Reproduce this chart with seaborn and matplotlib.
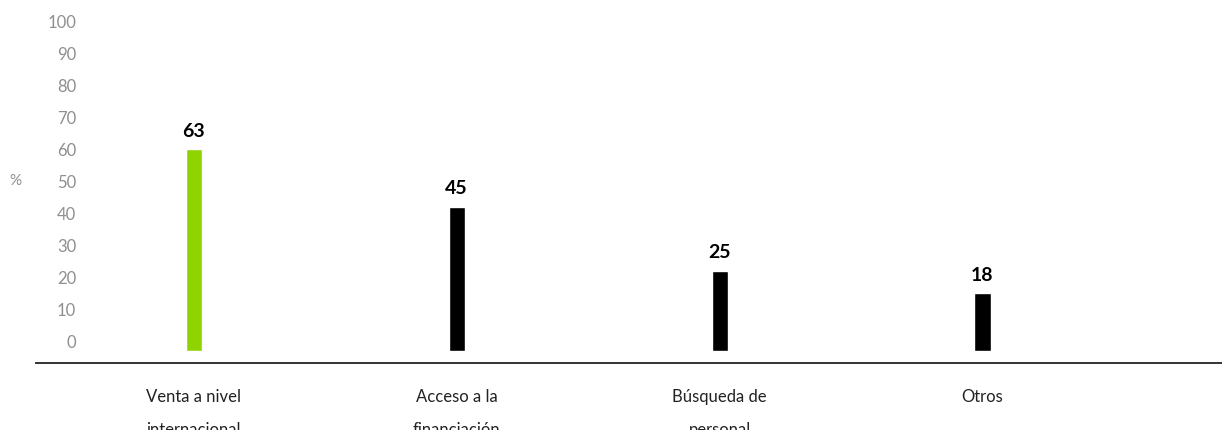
import matplotlib
matplotlib.use("Agg")
import matplotlib.pyplot as plt
import seaborn as sns
import pandas as pd

categories = ["Venta a nivel\ninternacional", "Acceso a la\nfinanciación",
              "Búsqueda de\npersonal", "Otros"]
values = [63, 45, 25, 18]
bar_colors = ["#8fd400", "#000000", "#000000", "#000000"]
y_ticks = [0, 10, 20, 30, 40, 50, 60, 70, 80, 90, 100]

sns.set_theme(style="white")
plt.rcParams["font.family"] = ["Lato", "DejaVu Sans"]

W, H = 1222, 430
fig = plt.figure(figsize=(W / 100, H / 100), dpi=100)

# axes spans from the baseline (y=363 px) up to the top of the figure
left_px, base_px = 36, 363
ax = fig.add_axes([left_px / W, (H - base_px) / H, 1 - left_px / W, base_px / H])

df = pd.DataFrame({"cat": categories, "val": values})
sns.barplot(data=df, x="cat", y="val", hue="cat", palette=bar_colors,
            width=0.061, legend=False, ax=ax, saturation=1)

px_per_unit = 3.2
ax.set_ylim(-(base_px - 351) / px_per_unit, 351 / px_per_unit)
spacing = 263.5
ax.set_xlim(-(194 - left_px) / spacing, 3 + (W - 982) / spacing)

# value labels above each bar
for p in ax.patches:
    h = p.get_height()
    if h is None or h != h or h == 0:
        continue
    ax.annotate(f"{h:.0f}", (p.get_x() + p.get_width() / 2, h),
                xytext=(0, 7), textcoords="offset points",
                ha="center", va="bottom", fontsize=14,
                fontweight="bold", color="#000000")

for s in ["left", "right", "top"]:
    ax.spines[s].set_visible(False)
ax.spines["bottom"].set_color("#333333")
ax.spines["bottom"].set_linewidth(1.4)

ax.set_xlabel("")
ax.set_ylabel("")
ax.set_yticks([])
ax.tick_params(axis="x", length=0, pad=19, labelsize=12, labelcolor="#222222")
for t in ax.get_xticklabels():
    t.set_linespacing(2.3)
    t.set_verticalalignment("top")

# percentage scale drawn on its own axis
ax2 = ax.twinx()
ax2.set_ylim(-(base_px - 341) / 3.19, 341 / 3.19)
ax2.yaxis.set_ticks_position("left")
ax2.set_yticks(y_ticks)
ax2.set_yticklabels([str(v) for v in y_ticks])
ax2.tick_params(axis="y", length=0, pad=-29, labelsize=12,
                labelcolor="#8f8f8f")
for s in ax2.spines.values():
    s.set_visible(False)
ax2.grid(False)
ax.grid(False)

fig.text(15 / W, 1 - 181 / H, "%", ha="center", va="center",
         fontsize=11, color="#8f8f8f")

fig.savefig("out.png", dpi=100)
